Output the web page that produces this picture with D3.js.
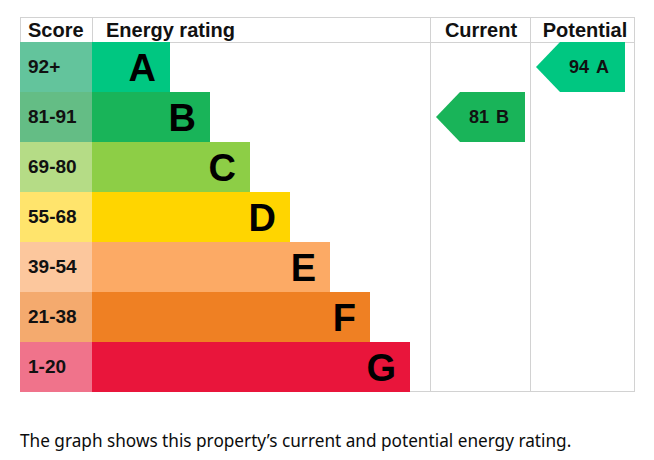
<!DOCTYPE html>
<html>
<head>
<meta charset="utf-8">
<script src="https://cdn.jsdelivr.net/npm/d3@7"></script>
<style>
  body { margin: 0; background: #fff; }
  svg { display: block; }
</style>
</head>
<body>
<svg id="chart" width="654" height="460"></svg>
<script>
// energy bands, top to bottom
var ratings = ["A", "B", "C", "D", "E", "F", "G"];
var scoreRanges = ["92+", "81-91", "69-80", "55-68", "39-54", "21-38", "1-20"];
var bandColors = ["#00c781", "#19b459", "#8dce46", "#ffd500", "#fcaa65", "#ef8023", "#e9153b"];
var scoreColors = ["#63c49c", "#64bd85", "#b5dc86", "#ffe46c", "#fcc79d", "#f4aa6e", "#f0738b"];
var headers = ["Score", "Energy rating", "Current", "Potential"];
var currentScore = 81, currentRating = "B";
var potentialScore = 94, potentialRating = "A";

var svg = d3.select("#chart");
var font = "Arial, 'Liberation Sans', sans-serif";

var y = d3.scaleBand().domain(ratings).range([42, 392]);
var barEnd = d3.scaleLinear().domain([0, ratings.length - 1]).range([170, 410]);
var left = 20, scoreRight = 92, curX = 430, potX = 530, right = 634;
var grid = "#d2d2d2";

// grid lines
svg.append("line").attr("x1", left).attr("x2", right).attr("y1", 17.5).attr("y2", 17.5).attr("stroke", grid);
svg.append("line").attr("x1", left).attr("x2", right).attr("y1", 42.5).attr("y2", 42.5).attr("stroke", grid);
svg.append("line").attr("x1", left).attr("x2", right).attr("y1", 391.5).attr("y2", 391.5).attr("stroke", grid);
[left + 0.5, scoreRight + 0.5].forEach(function (x) {
    svg.append("line").attr("x1", x).attr("x2", x).attr("y1", 17).attr("y2", 42).attr("stroke", grid);
});
[curX + 0.5, potX + 0.5, right + 0.5].forEach(function (x) {
    svg.append("line").attr("x1", x).attr("x2", x).attr("y1", 17).attr("y2", 392).attr("stroke", grid);
});

// header texts
var headerX = [28, 106, 481, 585];
var headerAnchor = ["start", "start", "middle", "middle"];
svg.selectAll("text.head").data(headers).enter().append("text")
    .attr("class", "head")
    .attr("x", function (d, i) { return headerX[i]; })
    .attr("y", 37)
    .attr("text-anchor", function (d, i) { return headerAnchor[i]; })
    .style("font-family", font).style("font-weight", "bold").style("font-size", "20px")
    .style("fill", "#111")
    .text(function (d) { return d; });

// score column
var rows = svg.selectAll("g.band").data(ratings).enter().append("g").attr("class", "band");
rows.append("rect")
    .attr("x", left).attr("width", scoreRight - left)
    .attr("y", function (d) { return y(d); }).attr("height", y.bandwidth())
    .attr("fill", function (d, i) { return scoreColors[i]; });
rows.append("text")
    .attr("x", 28)
    .attr("y", function (d) { return y(d) + y.bandwidth() / 2 + 6; })
    .style("font-family", font).style("font-weight", "bold").style("font-size", "19px")
    .style("fill", "#111")
    .text(function (d, i) { return scoreRanges[i]; });

// rating bars
rows.append("rect")
    .attr("x", scoreRight)
    .attr("width", function (d, i) { return barEnd(i) - scoreRight; })
    .attr("y", function (d) { return y(d); }).attr("height", y.bandwidth())
    .attr("fill", function (d, i) { return bandColors[i]; });
rows.append("text")
    .attr("x", function (d, i) { return barEnd(i) - 14; })
    .attr("y", function (d) { return y(d) + y.bandwidth() / 2 + 14; })
    .attr("text-anchor", "end")
    .style("font-family", font).style("font-weight", "bold").style("font-size", "38px")
    .style("fill", "#000")
    .text(function (d) { return d; });

// arrows for current and potential
function arrow(colX, score, rating) {
    var top = y(rating), h = y.bandwidth();
    var tip = colX + 6, body = colX + 30, end = colX + 95;
    var idx = ratings.indexOf(rating);
    svg.append("path")
        .attr("d", "M" + tip + "," + (top + h / 2) + "L" + body + "," + top + "L" + end + "," + top +
              "L" + end + "," + (top + h) + "L" + body + "," + (top + h) + "Z")
        .attr("fill", bandColors[idx]);
    var t = svg.append("text")
        .attr("y", top + h / 2 + 6)
        .style("font-family", font).style("font-weight", "bold").style("font-size", "18px")
        .style("fill", "#111");
    t.append("tspan").attr("x", colX + 39).text(score);
    t.append("tspan").attr("x", colX + 66).text(rating);
}
arrow(curX, currentScore, currentRating);
arrow(potX, potentialScore, potentialRating);

// caption
svg.append("text")
    .attr("x", 20).attr("y", 447)
    .style("font-family", "'Noto Sans', sans-serif").style("font-size", "17.2px")
    .style("fill", "#0b0c0c")
    .text("The graph shows this property\u2019s current and potential energy rating.");
</script>
</body>
</html>
